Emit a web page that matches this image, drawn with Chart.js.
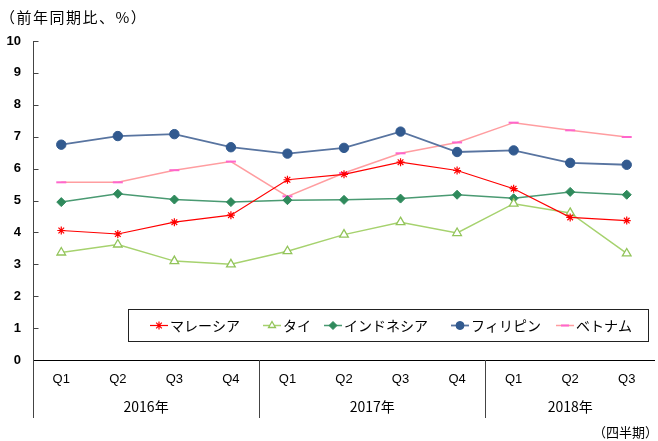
<!DOCTYPE html>
<html><head><meta charset="utf-8">
<script src="https://cdn.jsdelivr.net/npm/chart.js@4/dist/chart.umd.min.js"></script>
<style>
html,body{margin:0;padding:0;background:#fff;overflow:hidden;width:658px;height:441px;}
#wrap{position:relative;width:662px;height:441px;}
</style></head><body>
<div id="wrap"><canvas id="c"></canvas></div>
<script>
const categories = ['Q1','Q2','Q3','Q4','Q1','Q2','Q3','Q4','Q1','Q2','Q3'];
const years = ['2016年','2017年','2018年'];
const yearSpans = [4,4,3];
const seriesNames = ['マレーシア','タイ','インドネシア','フィリピン','ベトナム'];
const malaysia = [4.06,3.95,4.32,4.54,5.65,5.82,6.20,5.94,5.37,4.47,4.37];
const thai = [3.37,3.62,3.10,3.00,3.41,3.93,4.32,3.98,4.90,4.61,3.34];
const indonesia = [4.95,5.21,5.03,4.95,5.01,5.02,5.06,5.18,5.07,5.27,5.18];
const philippines = [6.75,7.02,7.08,6.67,6.47,6.65,7.16,6.52,6.57,6.18,6.12];
const vietnam = [5.57,5.57,5.95,6.22,5.13,5.86,6.48,6.82,7.44,7.20,6.99];
const yTitle = '（前年同期比、%）';
const xTitle = '（四半期）';

const JP = '"Noto Sans CJK JP", sans-serif';
const LAT = '"Liberation Sans", Arial, sans-serif';

const datasets = [
  {label: seriesNames[0], data: malaysia, borderColor:'#ff0000', borderWidth:1.2, pointStyle:'star', pointRadius:4, pointBorderColor:'#ff0000', pointBackgroundColor:'#ff0000', pointBorderWidth:1.2},
  {label: seriesNames[1], data: thai, borderColor:'#a6d26e', borderWidth:1.5, pointStyle:'triangle', pointRadius:5, pointBorderColor:'#92c45a', pointBackgroundColor:'#ffffff', pointBorderWidth:1.3},
  {label: seriesNames[2], data: indonesia, borderColor:'#4a9a72', borderWidth:1.5, pointStyle:'rectRot', pointRadius:4.5, pointBorderColor:'#2f8a5c', pointBackgroundColor:'#2f8a5c', pointBorderWidth:1},
  {label: seriesNames[3], data: philippines, borderColor:'#5874a0', borderWidth:1.8, pointStyle:'circle', pointRadius:4.7, pointBorderColor:'#325a8f', pointBackgroundColor:'#325a8f', pointBorderWidth:1},
  {label: seriesNames[4], data: vietnam, borderColor:'#ff9da0', borderWidth:1.5, pointStyle:'line', pointRadius:5, pointBorderColor:'#ff66cc', pointBackgroundColor:'#ff66cc', pointBorderWidth:2}
];
datasets.forEach(d=>{d.fill=false; d.tension=0; d.pointHoverRadius=d.pointRadius;});

const legendStarts = [150, 263, 324, 451, 556];

const extras = {
  id:'extras',
  beforeDatasetsDraw(chart){
    const ctx = chart.ctx;
    const y = chart.scales.y;
    const area = chart.chartArea;
    ctx.save();
    ctx.strokeStyle = '#444'; ctx.lineWidth = 1;
    const ax = Math.round(area.left)+0.5;
    ctx.beginPath(); ctx.moveTo(ax, area.top); ctx.lineTo(ax, area.bottom); ctx.stroke();
    y.ticks.forEach(t=>{
      const py = Math.round(y.getPixelForValue(t.value))+0.5;
      ctx.beginPath(); ctx.moveTo(ax, py); ctx.lineTo(ax+5, py); ctx.stroke();
    });
    ctx.restore();
  },
  afterDraw(chart){
    const ctx = chart.ctx;
    const x = chart.scales.x;
    const area = chart.chartArea;
    ctx.save();
    ctx.strokeStyle = '#000'; ctx.lineWidth = 1;
    ctx.beginPath(); ctx.moveTo(area.left, Math.round(area.bottom)+0.5); ctx.lineTo(area.right, Math.round(area.bottom)+0.5); ctx.stroke();
    const step = x.getPixelForValue(1) - x.getPixelForValue(0);
    let idx = 0;
    const drawDiv = (px)=>{ctx.strokeStyle='#444'; ctx.beginPath(); ctx.moveTo(Math.round(px)+0.5, area.bottom); ctx.lineTo(Math.round(px)+0.5, 418); ctx.stroke();};
    ctx.textAlign='center'; ctx.textBaseline='middle';
    for(let i=0;i<years.length;i++){
      const left = x.getPixelForValue(idx) - step/2;
      const right = x.getPixelForValue(idx+yearSpans[i]-1) + step/2;
      if(i>0) drawDiv(left);
      ctx.fillStyle='#000';
      ctx.font = '14px ' + JP;
      ctx.fillText(years[i], (left+right)/2, 407);
      idx += yearSpans[i];
    }
    drawDiv(area.left);
    ctx.font = '15px ' + JP; ctx.textAlign='left'; ctx.textBaseline='middle'; ctx.fillStyle='#000';
    if ('letterSpacing' in ctx) ctx.letterSpacing = '1.5px';
    ctx.fillText(yTitle, 0, 17);
    if ('letterSpacing' in ctx) ctx.letterSpacing = '0px';
    ctx.textAlign='right';
    ctx.font = '13px ' + JP;
    ctx.fillText(xTitle, 658, 432);
    ctx.fillStyle='#fff'; ctx.fillRect(128.5, 309.5, 520, 32);
    ctx.strokeStyle='#222'; ctx.lineWidth=1; ctx.strokeRect(128.5, 309.5, 520, 32);
    const ly = 325.5;
    chart.data.datasets.forEach((d,i)=>{
      const sx = legendStarts[i];
      ctx.strokeStyle = d.borderColor; ctx.lineWidth = d.borderWidth;
      ctx.beginPath(); ctx.moveTo(sx, ly); ctx.lineTo(sx+18, ly); ctx.stroke();
      ctx.fillStyle = d.pointBackgroundColor; ctx.strokeStyle = d.pointBorderColor; ctx.lineWidth = d.pointBorderWidth;
      Chart.helpers.drawPoint(ctx, {pointStyle:d.pointStyle, radius:Math.min(d.pointRadius,4), rotation:0, borderWidth:d.pointBorderWidth}, sx+9, ly);
      ctx.fillStyle='#000'; ctx.font='14px ' + JP; ctx.textAlign='left'; ctx.textBaseline='middle';
      ctx.fillText(d.label, sx+20, ly);
    });
    ctx.restore();
  }
};

new Chart(document.getElementById('c'), {
  type:'line',
  data:{labels: categories, datasets},
  options:{
    responsive:true, maintainAspectRatio:false, animation:false,
    layout:{padding:{top:41, right:1, left:0, bottom:0}},
    plugins:{legend:{display:false}, tooltip:{enabled:false}},
    scales:{
      x:{
        offset:true,
        grid:{display:false, drawTicks:false},
        border:{display:false},
        ticks:{font:{family:LAT, size:13}, color:'#000', padding:12, maxRotation:0, autoSkip:false},
        afterFit(s){s.height = 81;}
      },
      y:{
        min:0, max:10,
        grid:{display:false, drawTicks:false},
        border:{display:false},
        ticks:{stepSize:1, font:{family:LAT, size:13, weight:'bold'}, color:'#000', padding:12},
        afterFit(s){s.width = 33;}
      }
    }
  },
  plugins:[extras]
});
</script>
</body></html>
